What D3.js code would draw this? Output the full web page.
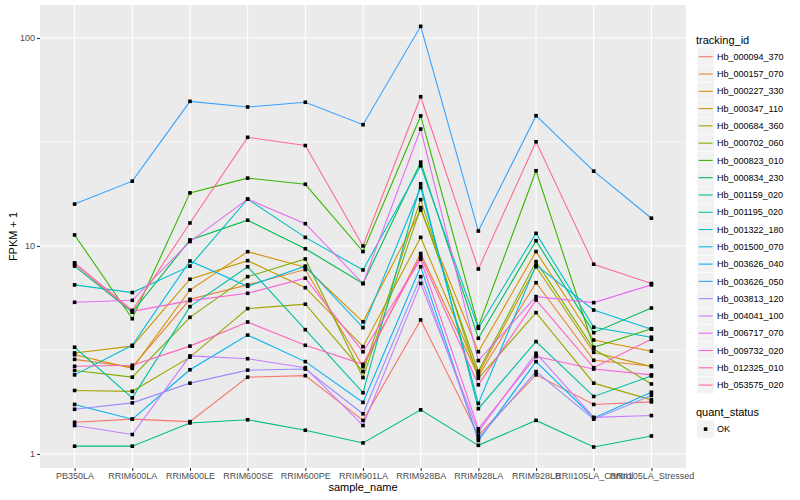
<!DOCTYPE html>
<html>
<head>
<meta charset="utf-8">
<script src="https://cdn.jsdelivr.net/npm/d3@7"></script>
<style>
  body { margin: 0; background: #fff; }
  svg text { font-family: "Liberation Sans", Arial, sans-serif; }
</style>
</head>
<body>
<div id="chart"></div>
<script>
const samples = ['PB350LA', 'RRIM600LA', 'RRIM600LE', 'RRIM600SE', 'RRIM600PE', 'RRIM901LA',
    'RRIM928BA', 'RRIM928LA', 'RRIM928LB', 'RRII105LA_Control', 'RRII105LA_Stressed'];

const trackingIds = ['Hb_000094_370', 'Hb_000157_070', 'Hb_000227_330', 'Hb_000347_110', 'Hb_000684_360',
    'Hb_000702_060', 'Hb_000823_010', 'Hb_000834_230', 'Hb_001159_020', 'Hb_001195_020',
    'Hb_001322_180', 'Hb_001500_070', 'Hb_003626_040', 'Hb_003626_050', 'Hb_003813_120',
    'Hb_004041_100', 'Hb_006717_070', 'Hb_009732_020', 'Hb_012325_010', 'Hb_053575_020'];

// FPKM + 1, one list per tracking_id, in sample order
const hb_000094_370 = [1.42, 1.47, 1.43, 2.34, 2.38, 1.45, 4.41, 1.23, 2.40, 1.73, 1.78];
const hb_000157_070 = [2.85, 2.62, 5.54, 6.5, 7.7, 2.63, 9.2, 2.37, 6.66, 2.82, 2.65];
const hb_000227_330 = [3.0, 2.58, 6.14, 9.39, 7.9, 4.32, 14.9, 3.1, 9.4, 3.53, 3.12];
const hb_000347_110 = [3.06, 3.3, 6.92, 8.5, 6.3, 3.28, 11.0, 2.43, 7.95, 3.08, 2.63];
const hb_000684_360 = [2.02, 2.0, 2.92, 5.0, 5.25, 2.49, 16.7, 2.31, 4.78, 2.19, 1.82];
const hb_000702_060 = [2.52, 2.34, 4.54, 7.12, 8.66, 2.33, 15.3, 2.5, 8.41, 3.2, 2.17];
const hb_000823_010 = [11.3, 4.47, 18.0, 21.2, 19.8, 9.4, 42.2, 4.09, 23.0, 3.26, 4.0];
const hb_000834_230 = [8.0, 4.8, 10.7, 13.3, 9.7, 6.6, 25.3, 3.6, 10.6, 3.83, 5.03];
const hb_001159_020 = [1.09, 1.09, 1.41, 1.46, 1.30, 1.13, 1.63, 1.10, 1.45, 1.08, 1.22];
const hb_001195_020 = [3.26, 1.86, 5.11, 7.95, 3.96, 1.97, 19.9, 1.65, 3.47, 1.89, 2.37];
const hb_001322_180 = [6.5, 5.97, 8.0, 16.8, 11.0, 7.67, 24.3, 4.02, 11.5, 4.07, 3.64];
const hb_001500_070 = [2.40, 3.33, 8.47, 6.4, 8.0, 4.05, 19.1, 1.75, 8.1, 4.92, 3.98];
const hb_003626_040 = [1.73, 1.47, 2.54, 3.73, 2.78, 1.77, 7.95, 1.16, 2.78, 1.49, 1.98];
const hb_003626_050 = [15.9, 20.5, 49.6, 46.6, 49.1, 38.3, 113.8, 11.8, 42.3, 22.9, 13.6];
const hb_003813_120 = [1.64, 1.76, 2.19, 2.53, 2.56, 1.56, 7.12, 1.19, 2.49, 1.47, 1.91];
const hb_004041_100 = [1.37, 1.24, 2.96, 2.87, 2.6, 1.37, 6.61, 1.28, 3.05, 1.50, 1.53];
const hb_006717_070 = [5.36, 5.48, 10.5, 16.8, 12.8, 6.6, 36.5, 2.81, 5.71, 5.34, 6.5];
const hb_009732_020 = [8.2, 4.85, 5.46, 5.92, 7.0, 3.1, 8.63, 1.32, 2.94, 2.56, 2.4];
const hb_012325_010 = [2.64, 2.67, 3.30, 4.31, 3.33, 2.7, 8.9, 2.15, 5.5, 2.6, 3.56];
const hb_053575_020 = [8.3, 4.9, 12.9, 33.3, 30.4, 10.0, 52.2, 7.75, 31.7, 8.17, 6.6];

const seriesValues = [hb_000094_370, hb_000157_070, hb_000227_330, hb_000347_110, hb_000684_360,
    hb_000702_060, hb_000823_010, hb_000834_230, hb_001159_020, hb_001195_020,
    hb_001322_180, hb_001500_070, hb_003626_040, hb_003626_050, hb_003813_120,
    hb_004041_100, hb_006717_070, hb_009732_020, hb_012325_010, hb_053575_020];

const yTicks = [1, 10, 100];
const yMinor = [Math.sqrt(10), Math.sqrt(1000)];

// ggplot hue palette, 20 levels
const palette = ['#F8766D', '#EA8331', '#D89000', '#C09B00', '#A3A500', '#7CAE00', '#39B600', '#00BB4E',
    '#00BF7D', '#00C1A3', '#00BFC4', '#00BAE0', '#00B0F6', '#35A2FF', '#9590FF', '#C77CFF',
    '#E76BF3', '#FA62DB', '#FF62BC', '#FF6C91'];

const drawChart = function () {
    const width = 800;
    const height = 500;
    const panel = {left: 40, right: 686, top: 5, bottom: 468};

    const svg = d3.select('#chart').append('svg')
        .attr('width', width)
        .attr('height', height);

    const x = d3.scalePoint()
        .domain(samples)
        .range([panel.left, panel.right])
        .padding(0.6);

    const y = d3.scaleLog()
        .domain([0.856, 144.1])
        .range([panel.bottom, panel.top]);

    svg.append('rect')
        .attr('x', panel.left)
        .attr('y', panel.top)
        .attr('width', panel.right - panel.left)
        .attr('height', panel.bottom - panel.top)
        .attr('fill', '#EBEBEB');

    const grid = svg.append('g');
    grid.selectAll('.minor').data(yMinor).enter().append('line')
        .attr('x1', panel.left).attr('x2', panel.right)
        .attr('y1', d => y(d)).attr('y2', d => y(d))
        .attr('stroke', '#fff').attr('stroke-width', 0.55);
    grid.selectAll('.major').data(yTicks).enter().append('line')
        .attr('x1', panel.left).attr('x2', panel.right)
        .attr('y1', d => y(d)).attr('y2', d => y(d))
        .attr('stroke', '#fff').attr('stroke-width', 1.1);
    grid.selectAll('.vert').data(samples).enter().append('line')
        .attr('x1', d => x(d)).attr('x2', d => x(d))
        .attr('y1', panel.top).attr('y2', panel.bottom)
        .attr('stroke', '#fff').attr('stroke-width', 1.1);

    const line = d3.line()
        .x((d, i) => x(samples[i]))
        .y(d => y(d));

    svg.append('g').selectAll('path')
        .data(seriesValues)
        .enter().append('path')
        .attr('d', line)
        .attr('fill', 'none')
        .attr('stroke', (d, i) => palette[i])
        .attr('stroke-width', 1.1);

    const points = [];
    seriesValues.forEach(vals => vals.forEach((v, i) => points.push({s: samples[i], v: v})));
    svg.append('g').selectAll('rect')
        .data(points)
        .enter().append('rect')
        .attr('x', d => x(d.s) - 1.8)
        .attr('y', d => y(d.v) - 1.8)
        .attr('width', 3.6)
        .attr('height', 3.6)
        .attr('fill', '#000');

    // axes
    const xAxis = svg.append('g')
        .attr('transform', `translate(0,${panel.bottom})`)
        .call(d3.axisBottom(x).tickSize(3).tickPadding(2));
    const yAxis = svg.append('g')
        .attr('transform', `translate(${panel.left},0)`)
        .call(d3.axisLeft(y).tickValues(yTicks).tickFormat(d3.format('d')).tickSize(3).tickPadding(2));
    [xAxis, yAxis].forEach(a => {
        a.select('.domain').remove();
        a.selectAll('.tick line').attr('stroke', '#333333').attr('stroke-width', 1.1);
        a.selectAll('.tick text').attr('fill', '#4D4D4D').style('font-size', '9px')
            .style('font-family', '"Liberation Sans", Arial, sans-serif');
    });

    svg.append('text')
        .attr('x', (panel.left + panel.right) / 2)
        .attr('y', 491)
        .attr('text-anchor', 'middle')
        .style('font-size', '11px')
        .text('sample_name');

    svg.append('text')
        .attr('transform', `translate(17,${(panel.top + panel.bottom) / 2}) rotate(-90)`)
        .attr('text-anchor', 'middle')
        .style('font-size', '11px')
        .text('FPKM + 1');

    // legend
    const legend = svg.append('g').attr('transform', 'translate(697,0)');
    legend.append('text')
        .attr('x', -1).attr('y', 44)
        .style('font-size', '11px')
        .text('tracking_id');

    const keys = legend.selectAll('.key')
        .data(trackingIds)
        .enter().append('g')
        .attr('transform', (d, i) => `translate(0,${48.1 + i * 17.28})`);
    keys.append('rect')
        .attr('width', 17.28).attr('height', 17.28)
        .attr('fill', '#F2F2F2').attr('stroke', '#fff').attr('stroke-width', 0.5);
    keys.append('line')
        .attr('x1', 1.7).attr('x2', 15.6)
        .attr('y1', 8.64).attr('y2', 8.64)
        .attr('stroke', (d, i) => palette[i])
        .attr('stroke-width', 1.1);
    keys.append('text')
        .attr('x', 20).attr('y', 8.64)
        .attr('dy', '0.35em')
        .style('font-size', '9px')
        .text(d => d);

    legend.append('text')
        .attr('x', -1).attr('y', 416)
        .style('font-size', '11px')
        .text('quant_status');
    const ok = legend.append('g').attr('transform', 'translate(0,420.5)');
    ok.append('rect')
        .attr('width', 17.28).attr('height', 17.28)
        .attr('fill', '#F2F2F2');
    ok.append('rect')
        .attr('x', 6.8).attr('y', 6.8).attr('width', 3.6).attr('height', 3.6)
        .attr('fill', '#000');
    ok.append('text')
        .attr('x', 20).attr('y', 8.64)
        .attr('dy', '0.35em')
        .style('font-size', '9px')
        .text('OK');
};

drawChart();
</script>
</body>
</html>
